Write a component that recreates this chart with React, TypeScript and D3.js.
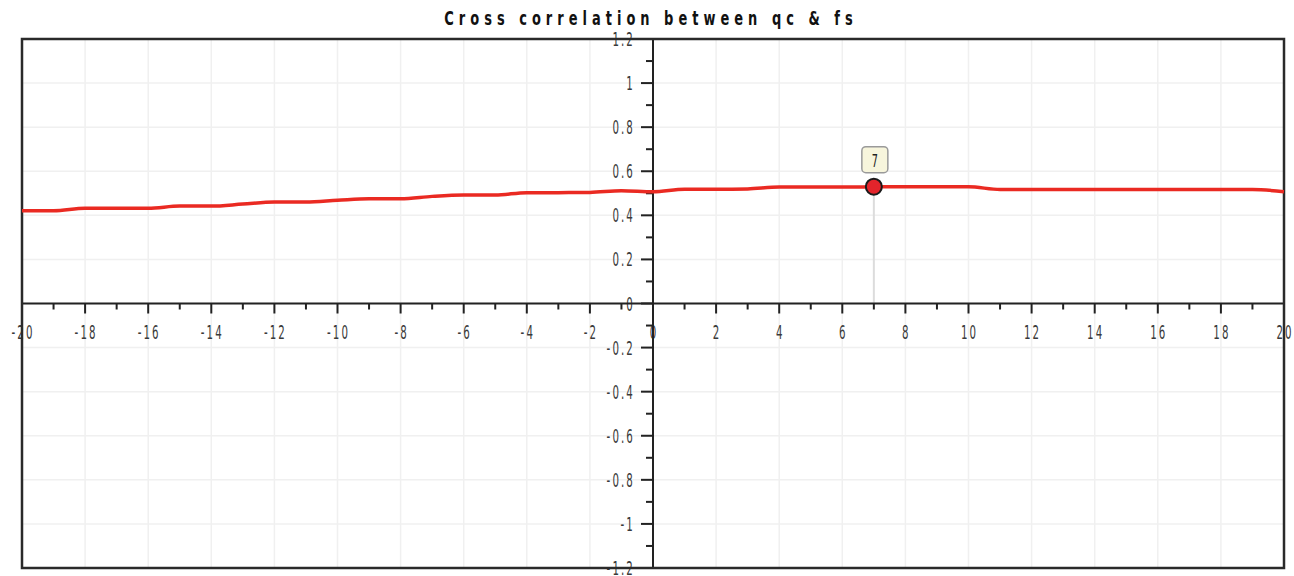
import React from "react";
import * as d3 from "d3";

// Lag values and cross-correlation coefficients
const lags: number[] = [
  -20, -19, -18, -17, -16, -15, -14, -13, -12, -11, -10, -9, -8, -7, -6, -5, -4, -3, -2, -1,
  0, 1, 2, 3, 4, 5, 6, 7, 8, 9, 10, 11, 12, 13, 14, 15, 16, 17, 18, 19, 20,
];
const correlation: number[] = [
  0.421, 0.421, 0.432, 0.432, 0.432, 0.442, 0.442, 0.451, 0.46, 0.46, 0.468, 0.475, 0.475, 0.486,
  0.492, 0.492, 0.503, 0.503, 0.504, 0.512, 0.507, 0.518, 0.518, 0.52, 0.528, 0.528, 0.528, 0.53,
  0.53, 0.53, 0.53, 0.517, 0.517, 0.517, 0.517, 0.517, 0.517, 0.517, 0.517, 0.517, 0.507,
];
const xMajorTicks: number[] = [-20, -18, -16, -14, -12, -10, -8, -6, -4, -2, 0, 2, 4, 6, 8, 10, 12, 14, 16, 18, 20];
const xMinorTicks: number[] = [-19, -17, -15, -13, -11, -9, -7, -5, -3, -1, 1, 3, 5, 7, 9, 11, 13, 15, 17, 19];
const yMajorTicks: number[] = [-1.2, -1, -0.8, -0.6, -0.4, -0.2, 0, 0.2, 0.4, 0.6, 0.8, 1, 1.2];
const yMinorTicks: number[] = [-1.1, -0.9, -0.7, -0.5, -0.3, -0.1, 0.1, 0.3, 0.5, 0.7, 0.9, 1.1];
const highlightedLag = 7;
const title = "Cross correlation between qc & fs";

const W = 1294;
const H = 576;
const left = 22;
const right = 1284;
const top = 39;
const bottom = 568;

const FONT = "'DejaVu Sans Condensed', 'DejaVu Sans', sans-serif";

// Narrow, tall label text: condensed face squeezed a little further horizontally
function Label(props: {
  x: number;
  y: number;
  anchor: "start" | "middle" | "end";
  children: string;
  size?: number;
  spacing?: number;
  weight?: string;
  fill?: string;
  squeeze?: number;
}) {
  const { x, y, anchor, children, size = 19, spacing = 3.5, weight = "normal", fill = "#3a3a3a", squeeze = 0.6 } = props;
  return (
    <text
      transform={`translate(${x},${y}) scale(${squeeze},1)`}
      textAnchor={anchor}
      fontFamily={FONT}
      fontStretch="condensed"
      fontSize={size}
      fontWeight={weight}
      letterSpacing={spacing}
      fill={fill}
    >
      {children}
    </text>
  );
}

export default function App() {
  const x = d3.scaleLinear().domain([-20, 20]).range([left, right]);
  const y = d3.scaleLinear().domain([-1.2, 1.2]).range([bottom, top]);
  const pts = lags.map((l, i) => [l, correlation[i]] as [number, number]);
  const line = d3
    .line<[number, number]>()
    .x((d) => x(d[0]))
    .y((d) => y(d[1]))
    .curve(d3.curveMonotoneX);

  const x0 = x(0);
  const y0 = y(0);
  const hi = lags.indexOf(highlightedLag);
  const hx = x(highlightedLag);
  const hy = y(correlation[hi]);

  const fmtY = (v: number) => String(+v.toFixed(1));

  return (
    <svg
      width={W}
      height={H}
      style={{ position: "absolute", left: 0, top: 0, background: "#fff" }}
    >
      {/* grid */}
      {xMajorTicks.map((t) => (
        <line key={"gx" + t} x1={x(t)} x2={x(t)} y1={top} y2={bottom} stroke="#f0f0f0" strokeWidth={1.5} />
      ))}
      {yMajorTicks.map((t) => (
        <line key={"gy" + t} x1={left} x2={right} y1={y(t)} y2={y(t)} stroke="#f0f0f0" strokeWidth={1.5} />
      ))}

      {/* title */}
      <Label x={651} y={25} anchor="middle" size={19} spacing={6.6} weight="bold" fill="#111" squeeze={0.76}>
        {title}
      </Label>

      {/* crosshair at highlighted lag */}
      <line x1={hx} x2={hx} y1={hy} y2={y0} stroke="#dcdcdc" strokeWidth={2} />

      {/* x axis ticks */}
      {xMajorTicks.map((t) => (
        <line key={"xt" + t} x1={x(t)} x2={x(t)} y1={y0} y2={y0 + 10} stroke="#222" strokeWidth={2} />
      ))}
      {xMinorTicks.map((t) => (
        <line key={"xm" + t} x1={x(t)} x2={x(t)} y1={y0} y2={y0 + 6} stroke="#222" strokeWidth={2} />
      ))}
      {xMajorTicks.map((t) => (
        <Label key={"xl" + t} x={x(t) + 1} y={y0 + 35} anchor="middle">
          {String(t)}
        </Label>
      ))}

      {/* y axis ticks */}
      {yMajorTicks.map((t) => (
        <line key={"yt" + t} x1={x0 - 12} x2={x0} y1={y(t)} y2={y(t)} stroke="#222" strokeWidth={2} />
      ))}
      {yMinorTicks.map((t) => (
        <line key={"ym" + t} x1={x0 - 7} x2={x0} y1={y(t)} y2={y(t)} stroke="#222" strokeWidth={2} />
      ))}
      {yMajorTicks.map((t) => (
        <Label key={"yl" + t} x={x0 - 18} y={y(t) + 7} anchor="end">
          {fmtY(t)}
        </Label>
      ))}

      {/* axes lines */}
      <line x1={left} x2={right} y1={y0} y2={y0} stroke="#222" strokeWidth={2} />
      <line x1={x0} x2={x0} y1={top} y2={bottom} stroke="#222" strokeWidth={2} />

      {/* frame */}
      <rect x={left} y={top} width={right - left} height={bottom - top} fill="none" stroke="#2a2a2a" strokeWidth={2.5} />

      {/* series */}
      <path d={line(pts) ?? ""} fill="none" stroke="#ea2a22" strokeWidth={3.5} strokeLinejoin="round" />

      {/* highlighted point */}
      <circle cx={hx} cy={hy} r={8} fill="#e3242b" stroke="#1a1a1a" strokeWidth={2} />
      <rect x={hx - 12} y={hy - 40} width={26} height={26} rx={4} fill="#f7f5dc" stroke="#9a9a9a" strokeWidth={1.5} />
      <Label x={hx + 1} y={hy - 20} anchor="middle" fill="#222" spacing={0} size={18}>
        {String(highlightedLag)}
      </Label>
    </svg>
  );
}
